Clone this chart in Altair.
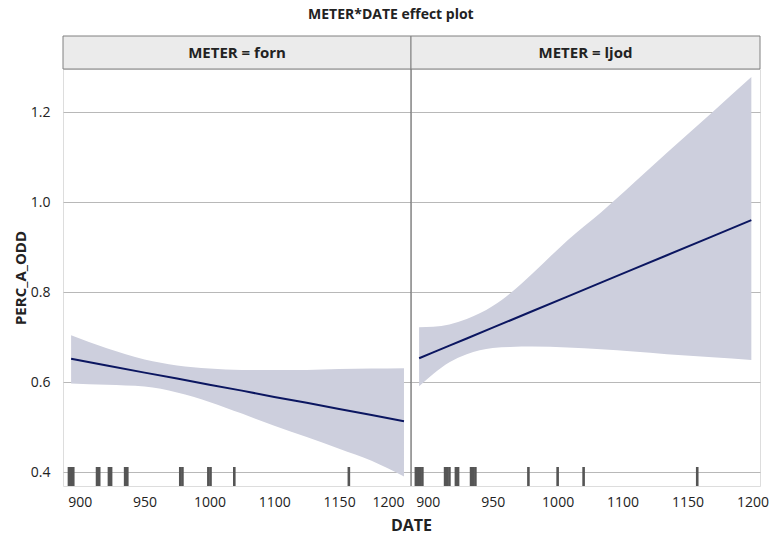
import altair as alt
import pandas as pd

# ---- data ----
meters = ["forn", "ljod"]

# x tick positions (underlying scale) and the labels printed at them
tick_values = [900, 960, 1020, 1080, 1140, 1200]
tick_labels = ["900", "950", "1000", "1100", "1150", "1200"]
y_ticks = [0.4, 0.6, 0.8, 1.0, 1.2]

# METER = forn
forn_date = [892, 925, 960, 990, 1020, 1050, 1080, 1110, 1140, 1170, 1200]
forn_fit = [0.652, 0.637, 0.621, 0.608, 0.594, 0.581, 0.567, 0.554, 0.540, 0.527, 0.513]
forn_upper = [0.704, 0.675, 0.650, 0.637, 0.630, 0.627, 0.627, 0.627, 0.629, 0.630, 0.631]
forn_lower = [0.597, 0.594, 0.590, 0.577, 0.556, 0.530, 0.503, 0.478, 0.452, 0.425, 0.390]
forn_rug = [890, 892, 894, 916, 918, 927, 929, 942, 944, 993, 995, 1019, 1021, 1043, 1149]

# METER = ljod
ljod_date = [892, 905, 920, 936, 960, 976, 997, 1029, 1060, 1090, 1121, 1163, 1199]
ljod_fit = [0.653, 0.666, 0.681, 0.697, 0.721, 0.737, 0.758, 0.790, 0.821, 0.851, 0.882, 0.924, 0.960]
ljod_upper = [0.722, 0.723, 0.728, 0.740, 0.769, 0.797, 0.842, 0.915, 0.977, 1.042, 1.110, 1.200, 1.278]
ljod_lower = [0.591, 0.618, 0.644, 0.662, 0.676, 0.678, 0.679, 0.677, 0.673, 0.668, 0.662, 0.655, 0.649]
ljod_rug = [889, 891, 893, 895, 916, 918, 920, 926, 928, 940, 942, 944, 993, 1020, 1044, 1149]

FONT = "Open Sans"
H = 417
BAND = "#cdcfdd"
LINE = "#0b1660"
FRAME = "#808080"
TXT = "#222222"

label_expr = " : ".join(
    f"datum.value == {v} ? '{l}'" for v, l in zip(tick_values, tick_labels)
) + " : ''"

yscale = alt.Scale(domain=[0.369, 1.296], nice=False, zero=False)


def panel(meter, dates, fit, upper, lower, rug, first, W, xdom):
    xscale = alt.Scale(domain=xdom, nice=False, zero=False)
    band_df = pd.DataFrame({"DATE": dates, "fit": fit, "upper": upper, "lower": lower})
    rug_df = pd.DataFrame({"DATE": rug})
    strip_df = pd.DataFrame({"label": [f"METER = {meter}"]})

    xaxis = alt.Axis(
        values=tick_values, labelExpr=label_expr, ticks=False, domain=False,
        grid=False, labelFontSize=14, labelColor=TXT, labelPadding=9,
        labelFont=FONT, labelFlush=10 if first else False,
        title="DATE" if first else "", titleFont=FONT,
        titleFontSize=16, titleFontWeight="bold", titleColor=TXT,
        titleX=W, titleAlign="center", titlePadding=8,
    )
    if first:
        yaxis = alt.Axis(
            values=y_ticks, format=".1f", ticks=False, domain=False, grid=True,
            gridColor="#b8b8b8", labelFontSize=14, labelColor=TXT,
            labelPadding=13, labelFont=FONT, title="PERC_A_ODD", titleFont=FONT,
            titleFontSize=15, titleFontWeight="bold", titleColor=TXT,
            titlePadding=2,
        )
    else:
        yaxis = alt.Axis(
            values=y_ticks, ticks=False, domain=False, grid=True,
            gridColor="#b8b8b8", labels=False, title="",
        )

    base = alt.Chart(band_df)
    area = base.mark_area(color=BAND, opacity=1, interpolate="monotone").encode(
        x=alt.X("DATE:Q", scale=xscale, axis=xaxis),
        y=alt.Y("lower:Q", scale=yscale, axis=yaxis),
        y2="upper:Q",
    )
    line = base.mark_line(color=LINE, strokeWidth=2).encode(
        x=alt.X("DATE:Q", scale=xscale),
        y=alt.Y("fit:Q", scale=yscale),
    )
    rugs = alt.Chart(rug_df).mark_rule(color="#555555", strokeWidth=2.6).encode(
        x=alt.X("DATE:Q", scale=xscale),
        y=alt.value(H - 19),
        y2=alt.value(H),
    )
    strip = alt.Chart(strip_df).mark_rect(
        fill="#ebebeb", stroke=FRAME, strokeWidth=1
    ).encode(
        x=alt.value(0), x2=alt.value(W), y=alt.value(-33), y2=alt.value(0)
    )
    strip_text = alt.Chart(strip_df).mark_text(
        font=FONT, fontSize=15, fontWeight="bold", color=TXT,
        baseline="middle", align="center",
    ).encode(x=alt.value(W / 2), y=alt.value(-16), text="label:N")
    layers = [area, line, rugs, strip, strip_text]
    if not first:
        divider = alt.Chart(strip_df).mark_rule(color="#6e6e6e", strokeWidth=1.2).encode(
            x=alt.value(0), y=alt.value(0), y2=alt.value(H)
        )
        layers.append(divider)

    return alt.layer(*layers).properties(width=W, height=H)


left = panel("forn", forn_date, forn_fit, forn_upper, forn_lower, forn_rug,
             True, 348, [884.5, 1206.5])
right = panel("ljod", ljod_date, ljod_fit, ljod_upper, ljod_lower, ljod_rug,
              False, 349, [884.5, 1207])

chart = alt.hconcat(left, right, spacing=0, bounds="flush").properties(
    title=alt.TitleParams(
        "METER*DATE effect plot", font=FONT, fontSize=14, fontWeight="bold",
        color=TXT, anchor="middle", offset=13,
    ),
    padding={"left": 12, "top": 8, "right": 0, "bottom": 0},
).configure_view(stroke=FRAME, strokeWidth=1).configure(background="white")

chart.save("out.html", embed_options={"renderer": "svg", "actions": False})
